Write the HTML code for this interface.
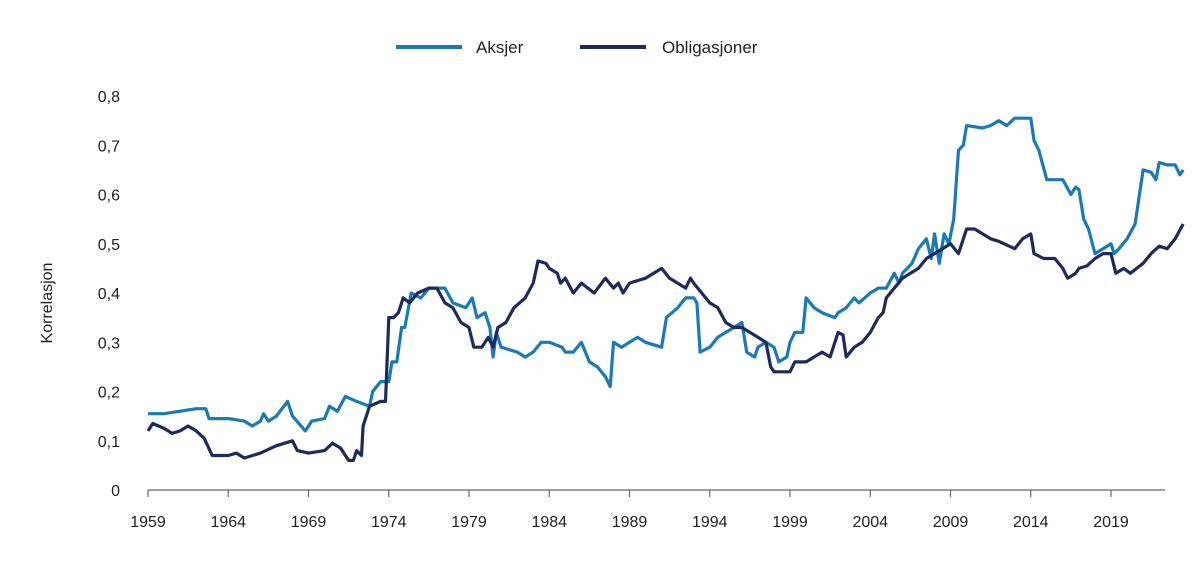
<!DOCTYPE html>
<html><head><meta charset="utf-8"><style>
body{margin:0;background:#fff;}
svg{display:block;font-family:"Liberation Sans",sans-serif;}
</style></head><body>
<svg id="c" width="1200" height="569" viewBox="0 0 1200 569"></svg>
<script>
const yTicks=[0,0.1,0.2,0.3,0.4,0.5,0.6,0.7,0.8];
const yTickLabels=["0","0,1","0,2","0,3","0,4","0,5","0,6","0,7","0,8"];
const xTicks=[1959,1964,1969,1974,1979,1984,1989,1994,1999,2004,2009,2014,2019];
const aksjerYears=[1959,1960,1961,1962,1962.6,1962.8,1964,1965,1965.5,1966,1966.2,1966.5,1967,1967.7,1968,1968.8,1969.2,1970,1970.3,1970.8,1971.3,1972,1972.8,1973,1973.5,1974,1974.2,1974.5,1974.8,1975,1975.4,1976,1976.5,1977,1977.5,1978,1978.8,1979.2,1979.5,1980,1980.3,1980.5,1980.7,1981,1982,1982.5,1983,1983.5,1984,1984.8,1985,1985.5,1986,1986.5,1987,1987.5,1987.8,1988,1988.5,1989,1989.5,1990,1991,1991.3,1992,1992.5,1993,1993.2,1993.4,1994,1994.5,1995,1995.5,1996,1996.3,1996.8,1997,1997.5,1998,1998.3,1998.8,1999,1999.3,1999.8,2000,2000.5,2001,2001.8,2002,2002.5,2003,2003.3,2004,2004.5,2005,2005.5,2005.8,2006,2006.6,2007,2007.5,2007.8,2008,2008.3,2008.6,2008.9,2009.2,2009.5,2009.8,2010,2011,2011.5,2012,2012.5,2013,2014,2014.2,2014.5,2015,2016,2016.5,2016.8,2017,2017.3,2017.6,2018,2018.5,2019,2019.2,2019.5,2020,2020.5,2021,2021.5,2021.8,2022,2022.5,2023,2023.3,2023.5];
const aksjerValues=[0.155,0.155,0.16,0.165,0.165,0.145,0.145,0.14,0.13,0.14,0.155,0.14,0.15,0.18,0.15,0.12,0.14,0.145,0.17,0.16,0.19,0.18,0.17,0.2,0.22,0.22,0.26,0.26,0.33,0.33,0.4,0.39,0.41,0.41,0.41,0.38,0.37,0.39,0.35,0.36,0.33,0.27,0.32,0.29,0.28,0.27,0.28,0.3,0.3,0.29,0.28,0.28,0.3,0.26,0.25,0.23,0.21,0.3,0.29,0.3,0.31,0.3,0.29,0.35,0.37,0.39,0.39,0.38,0.28,0.29,0.31,0.32,0.33,0.34,0.28,0.27,0.29,0.3,0.29,0.26,0.27,0.3,0.32,0.32,0.39,0.37,0.36,0.35,0.36,0.37,0.39,0.38,0.40,0.41,0.41,0.44,0.42,0.44,0.46,0.49,0.51,0.47,0.52,0.46,0.52,0.50,0.55,0.69,0.70,0.74,0.735,0.74,0.75,0.74,0.755,0.755,0.71,0.69,0.63,0.63,0.6,0.615,0.61,0.55,0.53,0.48,0.49,0.5,0.48,0.49,0.51,0.54,0.65,0.645,0.63,0.665,0.66,0.66,0.64,0.65];
const obligYears=[1959,1959.3,1960,1960.5,1961,1961.5,1962,1962.5,1963,1964,1964.5,1965,1966,1967,1968,1968.3,1969,1970,1970.5,1971,1971.5,1971.8,1972,1972.3,1972.4,1972.8,1973.5,1973.8,1974,1974.3,1974.6,1974.9,1975.3,1975.8,1976.5,1977,1977.5,1978,1978.5,1979,1979.3,1979.8,1980.2,1980.5,1980.8,1981.3,1981.8,1982.5,1983,1983.3,1983.8,1984,1984.5,1984.7,1985,1985.5,1986,1986.8,1987.5,1988,1988.3,1988.6,1989,1990,1991,1991.5,1992,1992.5,1992.8,1993,1993.5,1994,1994.5,1995,1995.5,1996,1996.5,1997,1997.5,1997.8,1998,1999,1999.3,2000,2000.5,2001,2001.5,2002,2002.3,2002.5,2003,2003.5,2004,2004.5,2004.8,2005,2005.5,2006,2006.5,2007,2007.5,2008,2008.5,2009,2009.5,2010,2010.5,2011,2011.5,2012,2013,2013.5,2014,2014.2,2014.8,2015.5,2016,2016.3,2016.8,2017,2017.5,2018,2018.5,2019,2019.3,2019.8,2020.2,2021,2021.5,2022,2022.5,2023,2023.5];
const obligValues=[0.12,0.135,0.125,0.115,0.12,0.13,0.12,0.105,0.07,0.07,0.075,0.065,0.075,0.09,0.1,0.08,0.075,0.08,0.095,0.085,0.06,0.06,0.08,0.07,0.13,0.17,0.18,0.18,0.35,0.35,0.36,0.39,0.38,0.40,0.41,0.41,0.38,0.37,0.34,0.33,0.29,0.29,0.31,0.29,0.33,0.34,0.37,0.39,0.42,0.465,0.46,0.45,0.44,0.42,0.43,0.40,0.42,0.40,0.43,0.41,0.42,0.40,0.42,0.43,0.45,0.43,0.42,0.41,0.43,0.42,0.40,0.38,0.37,0.34,0.33,0.33,0.32,0.31,0.30,0.25,0.24,0.24,0.26,0.26,0.27,0.28,0.27,0.32,0.315,0.27,0.29,0.30,0.32,0.35,0.36,0.39,0.41,0.43,0.44,0.45,0.47,0.48,0.49,0.50,0.48,0.53,0.53,0.52,0.51,0.505,0.49,0.51,0.52,0.48,0.47,0.47,0.45,0.43,0.44,0.45,0.455,0.47,0.48,0.48,0.44,0.45,0.44,0.46,0.48,0.495,0.49,0.51,0.54];

const svg=document.getElementById('c');
const NS='http://www.w3.org/2000/svg';
const X=y=>148+(y-1959)*16.05;
const Y=v=>490-v*492.5;
function mk(tag,attrs,parent){const e=document.createElementNS(NS,tag);for(const k in attrs)e.setAttribute(k,attrs[k]);(parent||svg).appendChild(e);return e;}

// y axis labels
yTicks.forEach((t,i)=>{
  const tx=mk('text',{x:120,y:Y(t)+6,'text-anchor':'end','font-size':16,fill:'#222'});
  tx.textContent=yTickLabels[i];
  
  
});
const yt=mk('text',{x:0,y:0,transform:'translate(52,303) rotate(-90)','text-anchor':'middle','font-size':16,fill:'#222'});
yt.textContent='Korrelasjon';



// x axis
const ax=mk('line',{x1:148,y1:490,x2:1165,y2:490,stroke:'#666','stroke-width':1.2});


xTicks.forEach(t=>{
  const l=mk('line',{x1:X(t),y1:490,x2:X(t),y2:497,stroke:'#666','stroke-width':1.2});
  
  
  const tx=mk('text',{x:X(t),y:527,'text-anchor':'middle','font-size':16,fill:'#222'});
  tx.textContent=String(t);
  
  
});

function series(ys,vs,color,name){
  const d=ys.map((y,i)=>(i?'L':'M')+X(y).toFixed(1)+','+Y(vs[i]).toFixed(1)).join(' ');
  const p=mk('path',{d:d,fill:'none',stroke:color,'stroke-width':3.2,'stroke-linejoin':'round'});
  
  
}
series(aksjerYears,aksjerValues,'#1a7ab5','aksjer-line');
series(obligYears,obligValues,'#1f2a5c','obligasjoner-line');

// legend
const l1=mk('line',{x1:396,y1:47,x2:462,y2:47,stroke:'#1a7ab5','stroke-width':4});


const t1=mk('text',{x:476,y:53,'font-size':17,fill:'#222'});
t1.textContent='Aksjer';


const l2=mk('line',{x1:580,y1:47,x2:646,y2:47,stroke:'#1f2a5c','stroke-width':4});


const t2=mk('text',{x:662,y:53,'font-size':17,fill:'#222'});
t2.textContent='Obligasjoner';


</script>
</body></html>
